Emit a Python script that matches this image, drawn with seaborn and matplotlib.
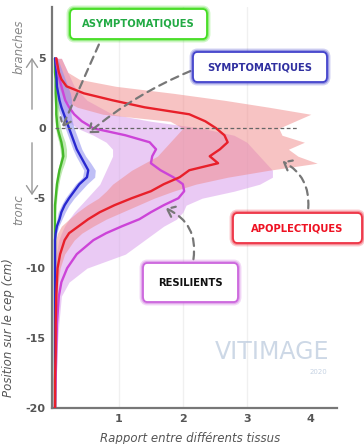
import numpy as np
import pandas as pd
import matplotlib
matplotlib.use("Agg")
import matplotlib.pyplot as plt
import seaborn as sns
from matplotlib.patches import FancyBboxPatch

sns.set_style("white")
plt.rcParams['font.family'] = ['DejaVu Sans']

# ---------------- data (position y in cm, ratio x) ----------------
y_grid = [5, 4.5, 4, 3.5, 3, 2.5, 2, 1.5, 1, 0.5, 0, -0.5, -1, -1.5, -2, -2.5, -3, -3.5,
          -4, -4.5, -5, -5.5, -6, -6.5, -7, -7.5, -8, -9, -10, -11, -12, -14, -16, -18, -20]

apo_mean = [0.02, 0.04, 0.06, 0.1, 0.18, 0.45, 0.9, 1.4, 2.1, 2.35, 2.52, 2.65, 2.7, 2.58, 2.42, 2.55,
            2.1, 1.95, 1.7, 1.5, 1.2, 0.93, 0.7, 0.52, 0.37, 0.22, 0.15, 0.08, 0.04, 0.03, 0.02, 0.01, 0.01, 0.0, 0.0]
apo_lo = [0.0, 0.0, 0.0, 0.02, 0.05, 0.1, 0.14, 0.35, 0.75, 1.8, 2.0, 1.9, 1.8, 1.7, 1.6, 1.4,
          1.2, 1.05, 0.9, 0.8, 0.68, 0.5, 0.35, 0.22, 0.1, 0.04, 0.01, 0.0, 0.0, 0.0, 0.0, 0.0, 0.0, 0.0, 0.0]
apo_hi = [0.1, 0.15, 0.2, 0.38, 0.95, 1.85, 2.65, 3.35, 4.0, 3.75, 3.5, 3.55, 3.9, 3.65, 3.8, 4.1,
          3.35, 2.7, 2.2, 1.85, 1.55, 1.3, 1.05, 0.8, 0.6, 0.42, 0.3, 0.15, 0.08, 0.05, 0.04, 0.03, 0.02, 0.01, 0.01]

res_mean = [0.02, 0.03, 0.05, 0.07, 0.1, 0.13, 0.16, 0.22, 0.3, 0.42, 0.6, 1.1, 1.48, 1.58, 1.52, 1.5,
            1.65, 1.85, 2.0, 2.02, 1.93, 1.7, 1.5, 1.32, 1.05, 0.8, 0.6, 0.34, 0.19, 0.1, 0.06, 0.03, 0.02, 0.01, 0.0]
res_lo = [0.0, 0.0, 0.0, 0.02, 0.03, 0.04, 0.06, 0.09, 0.12, 0.2, 0.35, 0.6, 0.8, 0.9, 0.9, 0.85,
          0.8, 0.75, 0.7, 0.6, 0.5, 0.4, 0.3, 0.22, 0.15, 0.1, 0.06, 0.02, 0.01, 0.0, 0.0, 0.0, 0.0, 0.0, 0.0]
res_hi = [0.1, 0.15, 0.2, 0.25, 0.3, 0.4, 0.5, 0.7, 0.9, 1.5, 2.3, 2.8, 3.0, 3.1, 3.2, 3.3,
          3.4, 3.4, 3.2, 2.8, 2.3, 2.05, 2.0, 1.9, 1.7, 1.55, 1.4, 1.1, 0.5, 0.22, 0.1, 0.06, 0.03, 0.02, 0.01]

sym_mean = [0.0, 0.01, 0.02, 0.025, 0.03, 0.05, 0.07, 0.1, 0.14, 0.18, 0.22, 0.26, 0.3, 0.34, 0.4, 0.46,
            0.52, 0.5, 0.38, 0.3, 0.22, 0.15, 0.1, 0.07, 0.03, 0.01, 0.0, 0.0, 0.0, 0.0, 0.0, 0.0, 0.0, 0.0, 0.0]
sym_lo = [0.0, 0.0, 0.0, 0.0, 0.0, 0.01, 0.02, 0.04, 0.08, 0.12, 0.16, 0.2, 0.24, 0.28, 0.33, 0.39,
          0.45, 0.43, 0.32, 0.24, 0.16, 0.1, 0.05, 0.03, 0.01, 0.0, 0.0, 0.0, 0.0, 0.0, 0.0, 0.0, 0.0, 0.0, 0.0]
sym_hi = [0.04, 0.08, 0.12, 0.16, 0.2, 0.24, 0.26, 0.26, 0.25, 0.27, 0.3, 0.34, 0.38, 0.42, 0.48, 0.56,
          0.63, 0.62, 0.5, 0.4, 0.3, 0.22, 0.16, 0.11, 0.06, 0.03, 0.01, 0.0, 0.0, 0.0, 0.0, 0.0, 0.0, 0.0, 0.0]

asy_mean = [0.0, 0.0, 0.0, 0.01, 0.01, 0.01, 0.015, 0.02, 0.02, 0.03, 0.04, 0.07, 0.1, 0.12, 0.13, 0.1,
            0.07, 0.05, 0.03, 0.02, 0.01, 0.0, 0.0, 0.0, 0.0, 0.0, 0.0, 0.0, 0.0, 0.0, 0.0, 0.0, 0.0, 0.0, 0.0]
asy_lo = [0.0, 0.0, 0.0, 0.0, 0.0, 0.0, 0.0, 0.0, 0.0, 0.0, 0.01, 0.03, 0.06, 0.08, 0.09, 0.07,
          0.04, 0.02, 0.01, 0.0, 0.0, 0.0, 0.0, 0.0, 0.0, 0.0, 0.0, 0.0, 0.0, 0.0, 0.0, 0.0, 0.0, 0.0, 0.0]
asy_hi = [0.02, 0.03, 0.03, 0.04, 0.04, 0.05, 0.05, 0.06, 0.06, 0.07, 0.09, 0.12, 0.16, 0.18, 0.18, 0.15,
          0.11, 0.08, 0.06, 0.04, 0.03, 0.02, 0.01, 0.0, 0.0, 0.0, 0.0, 0.0, 0.0, 0.0, 0.0, 0.0, 0.0, 0.0, 0.0]

group_names = ["ASYMPTOMATIQUES", "SYMPTOMATIQUES", "APOPLECTIQUES", "RESILIENTS"]
x_ticks = [1, 2, 3, 4]
y_ticks = [-20, -15, -10, -5, 0, 5]

# ---------------- figure ----------------
W, H = 364, 444
fig = plt.figure(figsize=(W / 100, H / 100), dpi=100)
ax = fig.add_axes([52 / W, 1 - 408 / H, (337 - 52) / W, (408 - 7) / H])

series = [
    ("RESILIENTS", res_mean, res_lo, res_hi, "#cc44d8", "#d9a0ec", 0.55),
    ("APOPLECTIQUES", apo_mean, apo_lo, apo_hi, "#e8202a", "#f08888", 0.5),
    ("SYMPTOMATIQUES", sym_mean, sym_lo, sym_hi, "#2828d0", "#8c8cf0", 0.55),
    ("ASYMPTOMATIQUES", asy_mean, asy_lo, asy_hi, "#44b828", "#88d870", 0.55),
]

for name, m, lo, hi, lc, bc, a in series:
    ax.fill_betweenx(y_grid, lo, hi, color=bc, alpha=a, linewidth=0, zorder=1)

frames = []
for name, m, lo, hi, lc, bc, a in series:
    frames.append(pd.DataFrame({"x": m, "y": y_grid, "group": name}))
df = pd.concat(frames, ignore_index=True)
palette = {s[0]: s[4] for s in series}
for name in ["ASYMPTOMATIQUES", "SYMPTOMATIQUES", "RESILIENTS", "APOPLECTIQUES"]:
    sns.lineplot(data=df[df.group == name], x="x", y="y", sort=False, estimator=None,
                 orient="y", color=palette[name], linewidth=1.7, ax=ax, legend=False, zorder=4)

# dashed zero line
ax.plot([0, 3.8], [0, 0], ls=(0, (3, 2)), color="#666666", lw=0.9, zorder=5)

ax.set_xlim(-0.047, 4.41)
ax.set_ylim(-20, 8.67)
ax.set_xticks(x_ticks)
ax.set_yticks(y_ticks)
ax.set_xticklabels([str(v) for v in x_ticks], fontsize=8, fontweight="bold", color="#555555")
ax.set_yticklabels([str(v) for v in y_ticks], fontsize=8, fontweight="bold", color="#555555")
ax.tick_params(axis="both", direction="inout", length=5, width=1, color="#666666", pad=2)
for v in [1, 2, 3]:
    ax.axvline(v, color="#f0f0f0", lw=1.0, zorder=0)
for sp in ["top", "right"]:
    ax.spines[sp].set_visible(False)
for sp in ["left", "bottom"]:
    ax.spines[sp].set_color("#777777")
    ax.spines[sp].set_linewidth(1.6)

ax.set_xlabel("Rapport entre différents tissus", fontsize=8.5, style="italic", color="#555555")
ax.xaxis.set_label_coords(0.485, -0.06)
ax.set_ylabel("Position sur le cep (cm)", fontsize=8.5, style="italic", color="#555555")
ax.yaxis.set_label_coords(-0.13, 0.2)

# branches / tronc annotations (outside the axes, figure pixels)
def fx(px):
    return px / W

def fy(py):
    return 1 - py / H

fig.text(fx(19), fy(47), "branches", rotation=90, ha="center", va="center",
         fontsize=8.5, style="italic", color="#888888")
fig.text(fx(19), fy(210), "tronc", rotation=90, ha="center", va="center",
         fontsize=8.5, style="italic", color="#888888")
fig.add_artist(matplotlib.patches.FancyArrowPatch((fx(32), fy(112)), (fx(32), fy(55)),
               transform=fig.transFigure, arrowstyle="->,head_length=6,head_width=4",
               color="#999999", lw=1.0))
fig.add_artist(matplotlib.patches.FancyArrowPatch((fx(32), fy(140)), (fx(32), fy(198)),
               transform=fig.transFigure, arrowstyle="->,head_length=6,head_width=4",
               color="#999999", lw=1.0))

# labelled boxes
boxes = [
    ("ASYMPTOMATIQUES", 70, 9, 207, 39, "#22aa44", "#44dd22"),
    ("SYMPTOMATIQUES", 193, 52, 327, 82, "#3030a0", "#4444cc"),
    ("APOPLECTIQUES", 233, 213, 362, 243, "#ee1122", "#ee3344"),
    ("RESILIENTS", 143, 263, 238, 302, "#111111", "#cc66dd"),
]
for text, x0, y0, x1, y1, tc, ec in boxes:
    for lw, al in [(5, 0.25), (3, 0.4)]:
        p = FancyBboxPatch((fx(x0), fy(y1)), fx(x1 - x0), (y1 - y0) / H,
                           boxstyle="round,pad=0,rounding_size=0.012",
                           transform=fig.transFigure, facecolor="none", edgecolor=ec,
                           lw=lw, alpha=al, zorder=9)
        fig.add_artist(p)
    p = FancyBboxPatch((fx(x0), fy(y1)), fx(x1 - x0), (y1 - y0) / H,
                       boxstyle="round,pad=0,rounding_size=0.012",
                       transform=fig.transFigure, facecolor="white", edgecolor=ec,
                       lw=1.3, zorder=10)
    fig.add_artist(p)
    fig.text(fx((x0 + x1) / 2), fy((y0 + y1) / 2), text, ha="center", va="center",
             fontsize=7.2, fontweight="bold", color=tc, zorder=11)

# dashed arrows
arrows = [
    ((100, 42), (61, 130), "arc3,rad=0"),
    ((193, 70), (86, 135), "arc3,rad=0.08"),
    ((308, 211), (280, 160), "arc3,rad=0.35"),
    ((193, 262), (163, 207), "arc3,rad=0.4"),
]
for (sx, sy), (ex, ey), cs in arrows:
    fig.add_artist(matplotlib.patches.FancyArrowPatch(
        (fx(sx), fy(sy)), (fx(ex), fy(ey)), transform=fig.transFigure,
        arrowstyle="->,head_length=5,head_width=4", connectionstyle=cs,
        color="#777777", lw=1.6, linestyle=(0, (3.5, 2.5)), zorder=8))

# watermark
fig.text(fx(272), fy(352), "VITIMAGE", ha="center", va="center", fontsize=17,
         color="#b8c8dc", alpha=0.7)
fig.text(fx(318), fy(372), "2020", ha="center", va="center", fontsize=5,
         color="#b8c8dc", alpha=0.8)

fig.savefig("out.png", dpi=100)
